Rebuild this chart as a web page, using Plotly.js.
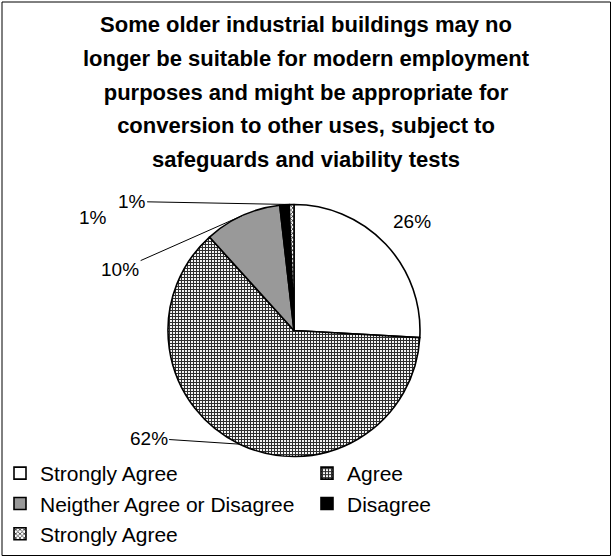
<!DOCTYPE html>
<html>
<head>
<meta charset="utf-8">
<script src="https://cdn.plot.ly/plotly-3.0.1.min.js"></script>
<style>
  html, body { margin: 0; padding: 0; background: #ffffff; }
  #chart { width: 612px; height: 557px; }
</style>
</head>
<body>
<div id="chart"></div>
<script>
// ---- data ----
const titleLines = [
  "Some older industrial buildings may no",
  "longer be suitable for modern employment",
  "purposes and might be appropriate for",
  "conversion to other uses, subject to",
  "safeguards and viability tests"
];
const categories = ["Strongly Agree", "Agree", "Neigther Agree or Disagree", "Disagree", "Strongly Agree "];
const values = [25.9, 62.4, 9.9, 1.2, 0.6];

// ---- styles (not data) ----
const sliceColors = ["#ffffff", "#ffffff", "#999999", "#000000", "#a8a8a8"];
const patternShapes = ["", "+", "", "", "x"];
const patternFg = ["#000000", "#2e2e2e", "#000000", "#000000", "#333333"];
const patternSize = [6, 3, 6, 6, 3];
const patternSolidity = [0.3, 0.6, 0.3, 0.3, 0.45];
// label offsets (px) from the slice edge midpoint to the label centre; whether a leader line shows
const labelOffsetX = [26, -91, -122, -192, -160];
const labelOffsetY = [-22, -6, 54, 13, -3];
const leaderShown = [false, true, true, false, true];

const W = 612, H = 557;
const CX = 294, CY = 330.5, R = 126;
const FONT = "Liberation Sans, Arial, Helvetica, sans-serif";

const total = values.reduce((a, b) => a + b, 0);

const trace = {
  type: "pie",
  labels: categories,
  values: values,
  sort: false,
  direction: "clockwise",
  rotation: 0,
  textinfo: "none",
  hoverinfo: "label+percent",
  domain: { x: [(CX - R) / W, (CX + R) / W], y: [1 - (CY + R) / H, 1 - (CY - R) / H] },
  marker: {
    colors: sliceColors,
    line: { color: "#000000", width: 1.6 },
    pattern: {
      shape: patternShapes,
      fgcolor: patternFg,
      size: patternSize,
      solidity: patternSolidity
    }
  }
};

// percentage labels placed off each slice's edge midpoint (computed from the data)
const annotations = [];
let cum = 0;
values.forEach((v, i) => {
  const mid = (cum + v / 2) / total * 2 * Math.PI;
  cum += v;
  const px = CX + R * Math.sin(mid);
  const py = CY - R * Math.cos(mid);
  annotations.push({
    xref: "paper", yref: "paper",
    x: px / W, y: 1 - py / H,
    text: Math.round(v / total * 100) + "%",
    showarrow: true,
    arrowhead: 0,
    arrowwidth: 1,
    arrowcolor: leaderShown[i] ? "#000000" : "rgba(0,0,0,0)",
    standoff: 0,
    ax: labelOffsetX[i],
    ay: labelOffsetY[i],
    font: { family: FONT, size: 19, color: "#000000" }
  });
});

const layout = {
  width: W,
  height: H,
  margin: { l: 0, r: 0, t: 0, b: 0 },
  paper_bgcolor: "#ffffff",
  plot_bgcolor: "#ffffff",
  title: {
    text: titleLines.map(s => '<span style="font-size:22px">' + s + '</span>').join("<br>"),
    font: { family: FONT, size: 26, color: "#000000", weight: "bold" },
    x: 0.5, xanchor: "center", xref: "paper",
    y: 1 - 32 / H, yanchor: "top", yref: "container"
  },
  showlegend: true,
  legend: {
    orientation: "h",
    x: 0, xanchor: "left",
    y: 1 - 453 / H, yanchor: "top",
    entrywidth: 262,
    traceorder: "normal",
    font: { family: FONT, size: 21, color: "#000000" },
    bgcolor: "rgba(0,0,0,0)",
    borderwidth: 0
  },
  annotations: annotations,
  shapes: [{
    type: "rect", xref: "paper", yref: "paper",
    x0: 2 / W, x1: 610.5 / W, y0: 1.5 / H, y1: 1 - 2 / H,
    line: { color: "#000000", width: 1 }, fillcolor: "rgba(0,0,0,0)", layer: "above"
  }]
};

Plotly.newPlot("chart", [trace], layout, { displayModeBar: false, staticPlot: true });
</script>
</body>
</html>
